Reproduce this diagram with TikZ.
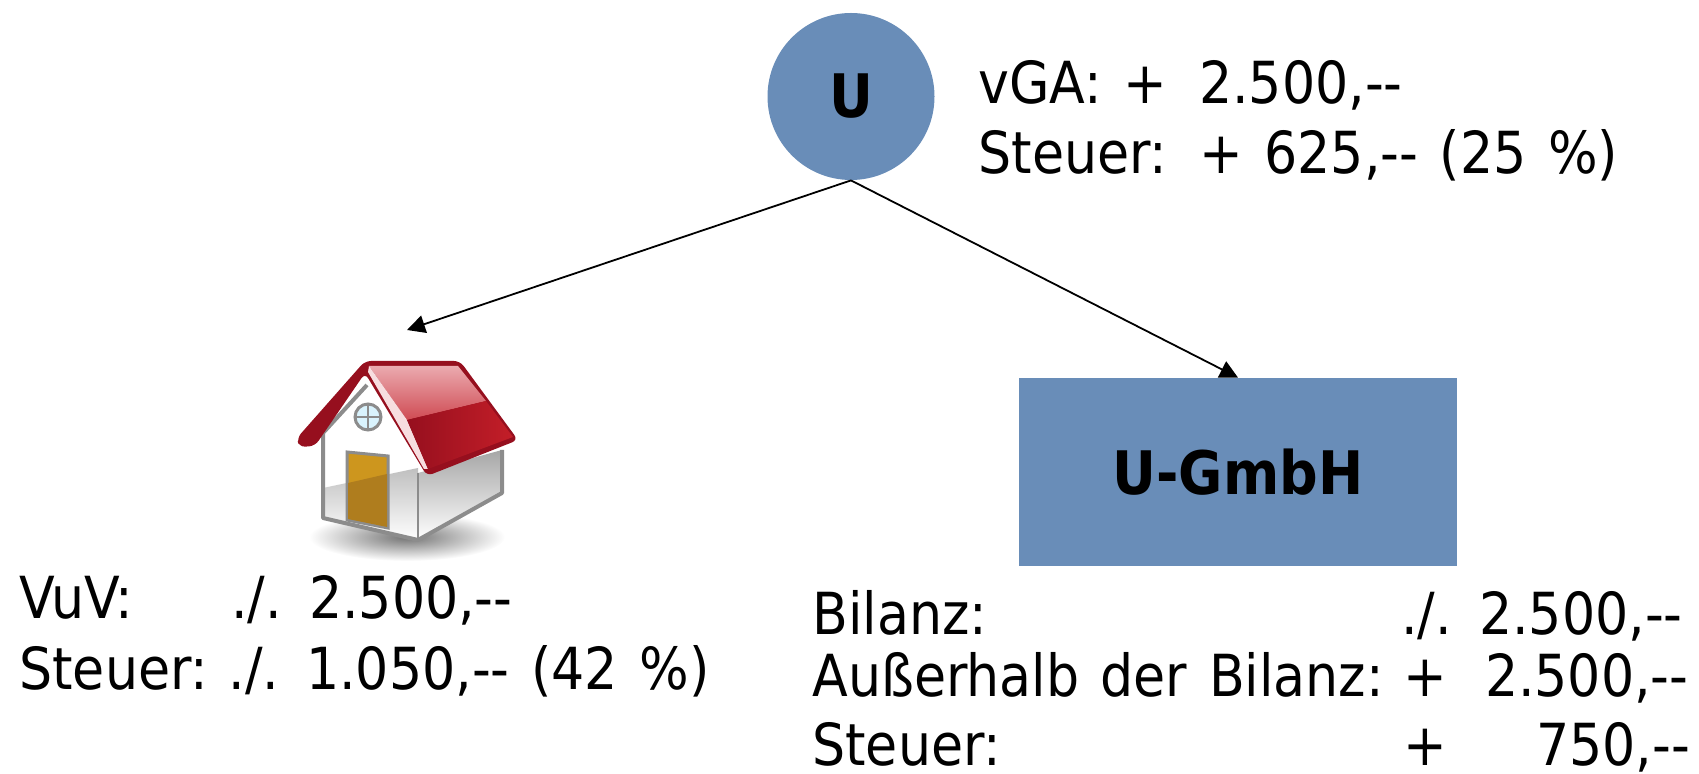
\documentclass[tikz,border=0pt]{standalone}
\usepackage{fontspec}
\setmainfont[WordSpace=1.3]{DejaVu Sans Condensed}
\usetikzlibrary{arrows.meta}
\definecolor{boxblue}{RGB}{105,141,184}
\definecolor{roofred}{RGB}{195,30,40}
\definecolor{roofdark}{RGB}{150,15,30}
\definecolor{roofpale}{RGB}{235,170,175}
\definecolor{wallgray}{RGB}{140,140,140}
\definecolor{doorgold}{RGB}{205,150,30}
\definecolor{doordark}{RGB}{175,125,30}
\tikzset{
  entity/.style={fill=boxblue,inner sep=0pt,font=\fontsize{30}{30}\selectfont\bfseries},
  amount/.style={anchor=base west,inner sep=0pt,font=\fontsize{29}{29}\selectfont},
  link/.style={black,line width=0.9pt,-{Triangle[length=9pt,width=9pt]}}
}
\newcommand{\cell}[2]{\makebox[#1][l]{#2}}
\begin{document}
\begin{tikzpicture}[x=0.5pt,y=-0.5pt]
\useasboundingbox (0,0) rectangle (1699,774);
\node[entity,circle,minimum size=83.5pt] (u) at (851,96.5) {\raisebox{-1pt}{U}};
\node[entity,minimum width=219pt,minimum height=94pt] (gmbh) at (1238,472) {\raisebox{-1pt}{U-GmbH}};
\coordinate (housetop) at (407,330);
% connectors
\draw[link] (u.south) -- (housetop);
\draw[link] (u.south) -- (gmbh.north);
% house
\shade[inner color=black!55,outer color=white] (407,537) ellipse (98 and 24);
\fill[white] (323,433) -- (367,385) -- (418,473) -- (418,540) -- (323,518) -- cycle;
\shade[top color=black!25,bottom color=white] (323,488) -- (418,468) -- (418,540) -- (323,518) -- cycle;
\shade[top color=black!35,bottom color=white] (418,473) -- (502,450) -- (502,493) -- (418,540) -- cycle;
\draw[wallgray,line width=2pt,line join=round] (367,385) -- (323,433) -- (323,518) -- (418,540) -- (502,493) -- (502,450);
\draw[wallgray,line width=1pt] (418,473) -- (418,540);
\fill[doorgold,draw=wallgray,line width=1.5pt] (347,452) -- (388,456) -- (388,528) -- (347,520) -- cycle;
\fill[doordark] (348,483) -- (387,474) -- (387,527) -- (348,519) -- cycle;
\draw[wallgray,line width=1.5pt,fill=cyan!15] (368,417) circle (13);
\draw[wallgray,line width=1pt] (355,417) -- (381,417) (368,404) -- (368,430);
\fill[roofdark,rounded corners=3pt] (297,438) -- (365,361) -- (460,361) -- (518,440) -- (427,476) -- (365,373) -- (315,446) -- (299,447) -- cycle;
\shade[top color=roofpale,bottom color=roofred!80!white] (369,366) -- (458,366) -- (486,401) -- (407,420) -- cycle;
\fill[white!60!roofpale] (369,366) -- (407,420) -- (428,469) -- (424,469) -- (368,372) -- cycle;
\shade[left color=roofdark,right color=roofred] (407,420) -- (486,401) -- (513,437) -- (428,469) -- cycle;
% amounts
\node[amount] (vga) at (978,104) {vGA: +\hspace{16pt}2.500,-{}-};
\node[amount] (usteuer) at (978,174) {Steuer:\hspace{16pt}+ 625,-{}- (25 \%)};
\node[amount] (vuv) at (19,619) {\cell{106pt}{VuV:}./. 2.500,-{}-};
\node[amount] (vsteuer) at (19,690) {\cell{104.5pt}{Steuer:}./. 1.050,-{}- (42 \%)};
\node[amount] (bilanz) at (812,635) {\cell{294.5pt}{Bilanz:}./. 2.500,-{}-};
\node[amount] (ausser) at (812,697) {\cell{295.5pt}{Außerhalb der Bilanz:}+\hspace{19pt}2.500,-{}-};
\node[amount] (gsteuer) at (812,766) {\cell{295.5pt}{Steuer:}+\hspace{44.5pt}750,-{}-};
\end{tikzpicture}
\end{document}
